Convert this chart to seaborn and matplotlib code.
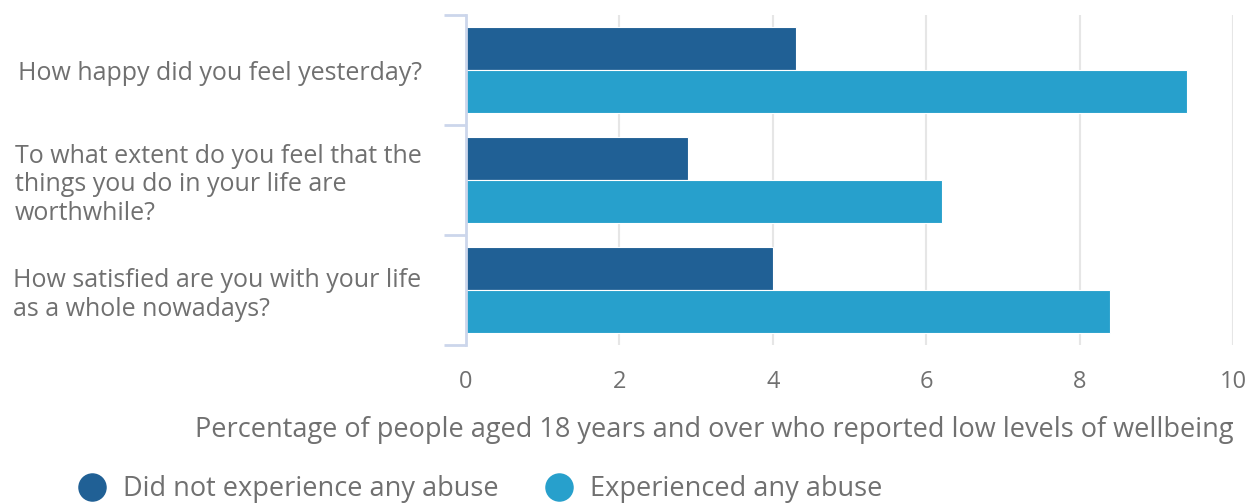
import matplotlib
matplotlib.use("Agg")
import matplotlib.pyplot as plt
from matplotlib.lines import Line2D
import pandas as pd
import seaborn as sns

questions = [
    "How happy did you feel yesterday?",
    "To what extent do you feel that the\nthings you do in your life are\nworthwhile?",
    "How satisfied are you with your life\nas a whole nowadays?",
]
groups = ["Did not experience any abuse", "Experienced any abuse"]
no_abuse = [4.3, 2.9, 4.0]
any_abuse = [9.4, 6.2, 8.4]
x_ticks = [0, 2, 4, 6, 8, 10]
x_title = "Percentage of people aged 18 years and over who reported low levels of wellbeing"

colors = {groups[0]: "#206095", groups[1]: "#27a0cc"}
text_color = "#707070"
axis_color = "#ccd6eb"
grid_color = "#e6e6e6"

df = pd.DataFrame({
    "question": questions * 2,
    "group": [groups[0]] * 3 + [groups[1]] * 3,
    "value": no_abuse + any_abuse,
})

sns.set_theme(style="white")
plt.rcParams["font.family"] = ["Open Sans", "DejaVu Sans"]

fig = plt.figure(figsize=(12.47, 5.04), dpi=100)
ax = fig.add_axes([0.3737, 0.3155, 0.9888 - 0.3737, 0.9702 - 0.3155])

sns.barplot(data=df, y="question", x="value", hue="group", order=questions,
            hue_order=groups, palette=colors, orient="h", width=0.78,
            saturation=1, legend=False, ax=ax, linewidth=0.8, edgecolor="white")

ax.set_xlim(0, 10)
ax.set_ylim(2.5, -0.5)
ax.set_xticks(x_ticks)
ax.set_xticklabels([str(t) for t in x_ticks])
ax.grid(axis="x", color=grid_color, linewidth=1.5)
ax.set_axisbelow(True)

for side in ["top", "right", "bottom"]:
    ax.spines[side].set_visible(False)
ax.spines["left"].set_color(axis_color)
ax.spines["left"].set_linewidth(2)

ax.tick_params(axis="x", length=0, pad=18, labelsize=17, labelcolor=text_color)
ax.tick_params(axis="y", which="major", left=False, length=0, pad=32,
               labelsize=18, labelcolor=text_color)
ax.set_yticks([-0.5, 0.5, 1.5, 2.5], minor=True)
ax.tick_params(axis="y", which="minor", left=True, length=16, width=2,
               color=axis_color)
for lbl in ax.get_yticklabels():
    lbl.set_multialignment("left")

ax.set_ylabel("")
ax.set_xlabel(x_title, fontsize=19.5, color=text_color, loc="right", labelpad=16)

handles = [Line2D([0], [0], marker="o", linestyle="", markersize=19.5,
                  markerfacecolor=colors[g], markeredgecolor=colors[g]) for g in groups]
fig.legend(handles, groups, loc="lower left", bbox_to_anchor=(0.043, -0.047),
           ncol=2, frameon=False, fontsize=19.5, labelcolor=text_color,
           handletextpad=0.65, columnspacing=1.75, handlelength=1.0)

fig.savefig("out.png", dpi=100)
